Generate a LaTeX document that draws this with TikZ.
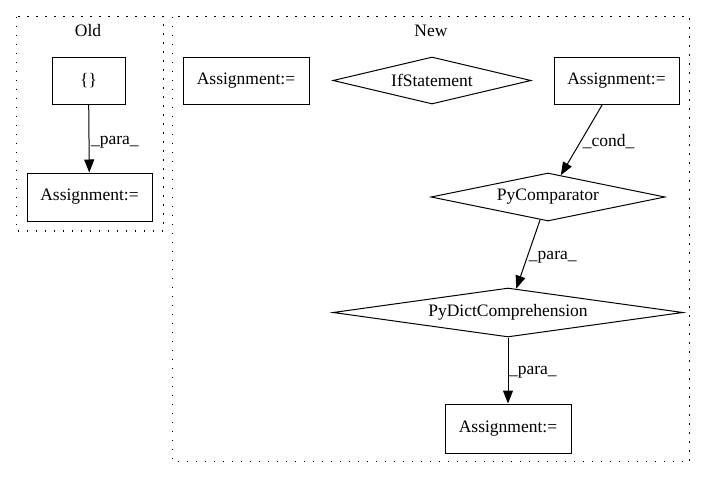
\documentclass[tikz,border=0pt]{standalone}
\usepackage{fontspec}
\setmainfont{Liberation Serif}
\usetikzlibrary{shapes.geometric,arrows.meta}
\begin{document}
\begin{tikzpicture}[x=1pt,y=-1pt,
  every node/.style={font=\fontsize{17.5}{20}\selectfont},
  cluster/.style={draw, line width=1.1pt, dash pattern=on 1.4pt off 7.6pt},
  box/.style={draw, line width=1pt, rectangle, inner sep=0pt},
  dia/.style={draw, line width=1pt, diamond, inner sep=0pt},
  link/.style={draw, line width=1pt, -{Triangle[length=13pt,width=10pt]}},
  lbl/.style={inner sep=1.5pt}]
\useasboundingbox (0,0) rectangle (707,480);

% clusters
\draw[cluster] (16.5,16.5) rectangle (163.5,231);
\draw[cluster] (172.5,16.5) rectangle (689.5,461.5);
\node (oldtitle) at (88,31) {Old};
\node (newtitle) at (431,31) {New};

% Old graph
\node[box, minimum width=73pt, minimum height=47pt] (oldbrace) at (88.5,80.5) {\{\}};
\node[box, minimum width=125pt, minimum height=48pt] (oldasg) at (89.5,197) {Assignment:=};

% New graph
\node[box, minimum width=126pt, minimum height=47pt] (asgL) at (246,80.5) {Assignment:=};
\node[dia, aspect=4.2, minimum width=198pt, minimum height=47pt] (ifst) at (432,80.5) {IfStatement};
\node[box, minimum width=125pt, minimum height=47pt] (asgR) at (616.5,80.5) {Assignment:=};
\node[dia, aspect=4.9, minimum width=234pt, minimum height=48pt] (pcmp) at (548,197) {PyComparator};
\node[dia, aspect=7.1, minimum width=350pt, minimum height=49pt] (pdict) at (508,312.5) {PyDictComprehension};
\node[box, minimum width=126pt, minimum height=49pt] (asgB) at (508,428.5) {Assignment:=};

% connectors
\draw[link] (oldbrace) -- node[lbl, pos=0.55, right] {\_para\_} (oldasg);
\draw[link] (asgR) -- node[lbl, pos=0.52, right] {\_cond\_} (pcmp);
\draw[link] (pcmp) -- node[lbl, pos=0.55, right] {\_para\_} (pdict);
\draw[link] (pdict) -- node[lbl, pos=0.52, right, inner sep=0.5pt] {\_para\_} (asgB);
\end{tikzpicture}
\end{document}
